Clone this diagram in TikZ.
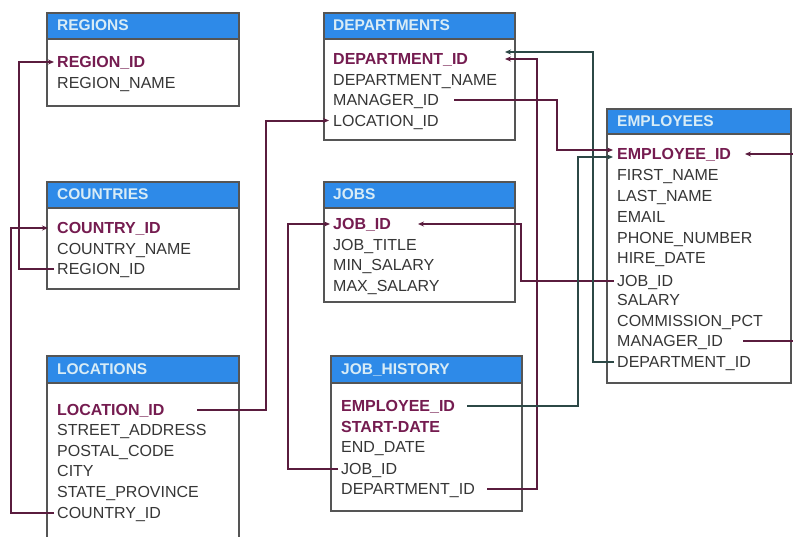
\documentclass[tikz,border=0pt]{standalone}
\usepackage{fontspec}
\setmainfont{Liberation Sans}
\usetikzlibrary{arrows.meta}
\definecolor{hdrblue}{HTML}{2E8AE8}
\definecolor{hdrtxt}{HTML}{D8ECF6}
\definecolor{boxgray}{HTML}{555555}
\definecolor{fldgray}{HTML}{363636}
\definecolor{keycol}{HTML}{751C50}
\definecolor{linemar}{HTML}{5A1C3E}
\definecolor{lineteal}{HTML}{2C4846}
\newcommand\hfnt{\fontsize{15.5}{18}\selectfont\bfseries}
\newcommand\ffnt{\fontsize{16}{19}\selectfont}
\newcommand\kfnt{\fontsize{16}{19}\selectfont\bfseries}
\tikzset{
  tbl/.style={draw=boxgray, line width=1.7pt, fill=white, anchor=north west, inner sep=0pt},
  hdr/.style={draw=boxgray, line width=1.7pt, fill=hdrblue, anchor=north west, inner sep=0pt},
  hdrtext/.style={anchor=west, inner sep=0pt, text height=11pt, text depth=0pt, text=hdrtxt, font=\hfnt},
  fld/.style={anchor=west, inner sep=0pt, text height=11.5pt, text depth=0pt, text=fldgray, font=\ffnt},
  keyfld/.style={fld, text=keycol, font=\kfnt},
  fkm/.style={draw=linemar, line width=2pt, -{Stealth[length=6pt,width=5pt]}},
  fkt/.style={draw=lineteal, line width=2pt, -{Stealth[length=6pt,width=5pt]}},
}
\begin{document}
\begin{tikzpicture}[x=1pt,y=-1pt]
\useasboundingbox (0,0) rectangle (793,536);
\clip (0,0) rectangle (793,536);
\fill[white] (0,0) rectangle (793,536);

% REGIONS
\node[tbl, minimum width=192pt, minimum height=93pt] (regions) at (46,12) {};
\node[hdr, minimum width=192pt, minimum height=26pt] (regions-h) at (46,12) {};
\node[hdrtext] (regions-t) at (57,25) {REGIONS};
\node[keyfld] (r-regid) at (57,62) {REGION\_ID};
\node[fld] (r-regname) at (57,82.5) {REGION\_NAME};

% COUNTRIES
\node[tbl, minimum width=192pt, minimum height=107pt] (countries) at (46,181) {};
\node[hdr, minimum width=192pt, minimum height=26pt] (countries-h) at (46,181) {};
\node[hdrtext] (countries-t) at (57,194) {COUNTRIES};
\node[keyfld] (c-ctyid) at (57,228) {COUNTRY\_ID};
\node[fld] (c-ctyname) at (57,248.5) {COUNTRY\_NAME};
\node[fld] (c-regid) at (57,269) {REGION\_ID};

% LOCATIONS
\node[tbl, minimum width=192pt, minimum height=200pt] (locations) at (46,355) {};
\node[hdr, minimum width=192pt, minimum height=27pt] (locations-h) at (46,355) {};
\node[hdrtext] (locations-t) at (57,368.5) {LOCATIONS};
\node[keyfld] (l-locid) at (57,409.5) {LOCATION\_ID};
\node[fld] (l-street) at (57,430) {STREET\_ADDRESS};
\node[fld] (l-postal) at (57,450.5) {POSTAL\_CODE};
\node[fld] (l-city) at (57,471) {CITY};
\node[fld] (l-state) at (57,492) {STATE\_PROVINCE};
\node[fld] (l-ctyid) at (57,512.5) {COUNTRY\_ID};

% DEPARTMENTS
\node[tbl, minimum width=191pt, minimum height=127pt] (departments) at (323,12) {};
\node[hdr, minimum width=191pt, minimum height=26pt] (departments-h) at (323,12) {};
\node[hdrtext] (departments-t) at (333,25) {DEPARTMENTS};
\node[keyfld] (d-deptid) at (333,59) {DEPARTMENT\_ID};
\node[fld] (d-deptname) at (333,79.5) {DEPARTMENT\_NAME};
\node[fld] (d-mgrid) at (333,100) {MANAGER\_ID};
\node[fld] (d-locid) at (333,120.5) {LOCATION\_ID};

% JOBS
\node[tbl, minimum width=191pt, minimum height=120pt] (jobs) at (323,181) {};
\node[hdr, minimum width=191pt, minimum height=26pt] (jobs-h) at (323,181) {};
\node[hdrtext] (jobs-t) at (333,194) {JOBS};
\node[keyfld] (j-jobid) at (333,224) {JOB\_ID};
\node[fld] (j-title) at (333,244.5) {JOB\_TITLE};
\node[fld] (j-min) at (333,265) {MIN\_SALARY};
\node[fld] (j-max) at (333,285.5) {MAX\_SALARY};

% JOB_HISTORY
\node[tbl, minimum width=191pt, minimum height=155pt] (jobhist) at (330,355) {};
\node[hdr, minimum width=191pt, minimum height=27pt] (jobhist-h) at (330,355) {};
\node[hdrtext] (jobhist-t) at (341,368.5) {JOB\_HISTORY};
\node[keyfld] (h-empid) at (341,406) {EMPLOYEE\_ID};
\node[keyfld] (h-start) at (341,426.5) {START-DATE};
\node[fld] (h-end) at (341,447) {END\_DATE};
\node[fld] (h-jobid) at (341,469) {JOB\_ID};
\node[fld] (h-deptid) at (341,489) {DEPARTMENT\_ID};

% EMPLOYEES
\node[tbl, minimum width=184pt, minimum height=274pt] (employees) at (606,108) {};
\node[hdr, minimum width=184pt, minimum height=25pt] (employees-h) at (606,108) {};
\node[hdrtext] (employees-t) at (617,121) {EMPLOYEES};
\node[keyfld] (e-empid) at (617,154) {EMPLOYEE\_ID};
\node[fld] (e-first) at (617,175) {FIRST\_NAME};
\node[fld] (e-last) at (617,196) {LAST\_NAME};
\node[fld] (e-email) at (617,216.5) {EMAIL};
\node[fld] (e-phone) at (617,237.5) {PHONE\_NUMBER};
\node[fld] (e-hire) at (617,258) {HIRE\_DATE};
\node[fld] (e-jobid) at (617,280.5) {JOB\_ID};
\node[fld] (e-salary) at (617,300) {SALARY};
\node[fld] (e-comm) at (617,320.5) {COMMISSION\_PCT};
\node[fld] (e-mgrid) at (617,341) {MANAGER\_ID};
\node[fld] (e-deptid) at (617,361.5) {DEPARTMENT\_ID};

% connectors
\draw[fkm] ([xshift=-3pt]c-regid.west) -- ++(-35,0) |- ([xshift=-3pt]r-regid.west);
\draw[fkm] ([xshift=-3pt]l-ctyid.west) -- ++(-43,0) |- ([xshift=-9pt]c-ctyid.west);
\draw[fkm] ([xshift=140pt]l-locid.west) -- ++(69,0) |- ([xshift=-4pt]d-locid.west);
\draw[fkm] ([xshift=-3pt]h-jobid.west) -- ++(-50,0) |- ([xshift=-3pt]j-jobid.west);
\draw[fkm] ([xshift=-3pt]e-jobid.west) -- ++(-93,0) |- ([xshift=85pt]j-jobid.west);
\draw[fkm] ([xshift=146pt]h-deptid.west) -- ++(50,0) |- ([xshift=172pt]d-deptid.west);
\draw[fkt] ([xshift=-3pt]e-deptid.west) -- ++(-21,0) |- ([xshift=172pt,yshift=7pt]d-deptid.west);
\draw[fkm] ([xshift=121pt]d-mgrid.west) -- ++(103,0) |- ([xshift=-4pt,yshift=4pt]e-empid.west);
\draw[fkt] ([xshift=126pt]h-empid.west) -- ++(111,0) |- ([xshift=-4pt,yshift=-3pt]e-empid.west);
\draw[fkm] ([xshift=126pt]e-mgrid.west) -- ++(60,0) |- ([xshift=128pt]e-empid.west);
\end{tikzpicture}
\end{document}
